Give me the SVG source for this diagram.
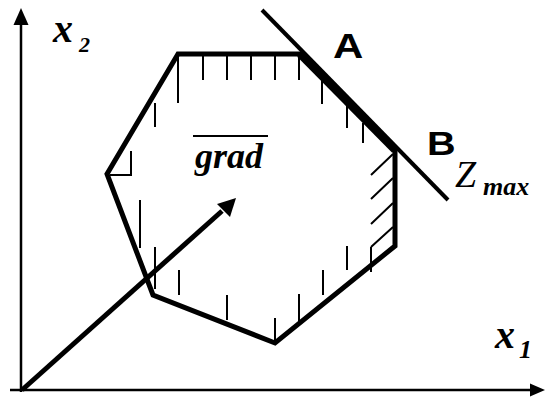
<svg xmlns="http://www.w3.org/2000/svg" width="545" height="398" viewBox="0 0 545 398">
<style>
.ax{stroke:#000;stroke-width:2.5;fill:none}
.hex{stroke:#000;stroke-width:5;fill:none;stroke-linejoin:miter}
.h{stroke:#000;stroke-width:2;fill:none}
</style>
<g id="axes">
<line class="ax" x1="21" y1="392" x2="21" y2="24"/>
<path d="M21,8L13.5,25L28.5,25z" fill="#000"/>
<line class="ax" x1="10" y1="390" x2="530" y2="390"/>
<path d="M545,390L530,383.5L530,396.5z" fill="#000"/>
</g>
<g id="feasible-region">
<polygon class="hex" points="178,54 300,54 395,150 395,246 275,343 153,295 107,174"/>
<line x1="300" y1="54" x2="395" y2="150" stroke="#000" stroke-width="8"/>
</g>
<g id="hatching">
<path class="h" d="M178,54V103M203,54V80M227,54V80M251,54V80M275,54V80M299,54V80
M322,80V104M347,106V128M363,123V143
M155,103V127
M131,151V175H110
M140,200V248M155,247V289
M179,270V295M227,295V320M275,318V343
M299,294V322M323,270V295M347,246V270M371,247V272
M371,175L393,154M371,199L393,178M371,224L393,203M371,247L393,227"/>
</g>
<g id="z-line">
<line x1="262" y1="10" x2="448" y2="200" stroke="#000" stroke-width="4"/>
</g>
<g id="connectors">
<line x1="22" y1="390" x2="222" y2="211" stroke="#000" stroke-width="5"/>
<path d="M236,198L217,204L230,217z" fill="#000"/>
</g>
<g id="labels" fill="#000">
<g font-family="'Liberation Serif', 'Times New Roman', serif" font-style="italic" font-weight="bold">
<text x="53" y="42" font-size="40">x</text>
<text x="79" y="52" font-size="22">2</text>
<text x="495" y="348" font-size="40">x</text>
<text x="519" y="358" font-size="26">1</text>
<text x="455" y="187" font-size="38" font-weight="normal">Z</text>
<text x="483" y="195" font-size="26">max</text>
<text x="195" y="168" font-size="36">grad</text>
</g>
<g font-family="'Liberation Sans', Arial, sans-serif" font-weight="bold" font-size="35">
<text transform="translate(333,58) scale(1.2,1)">A</text>
<text transform="translate(427,155) scale(1.2,1)" font-size="33">B</text>
</g>
<line x1="193" y1="136" x2="268" y2="136" stroke="#000" stroke-width="2"/>
</g>
</svg>
